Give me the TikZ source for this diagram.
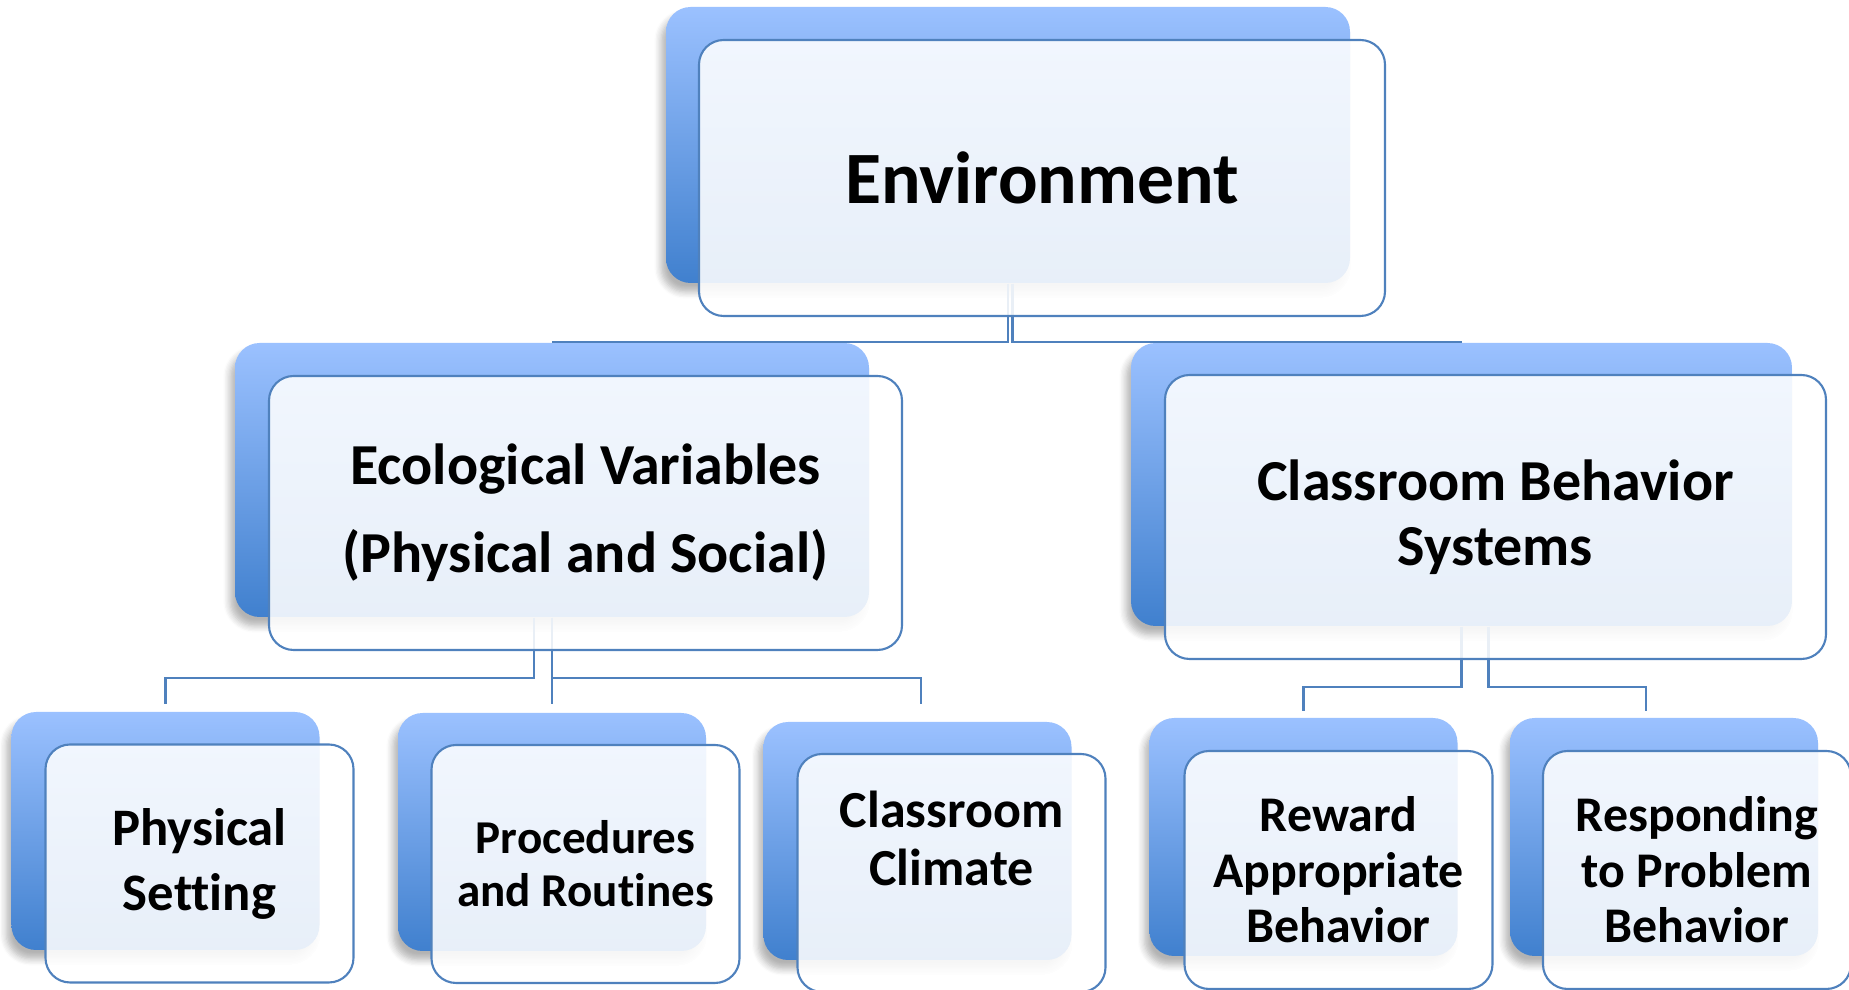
\documentclass[tikz,border=0pt]{standalone}
\usepackage{fontspec}
\setmainfont{Carlito}[Ligatures={NoCommon}]
\usetikzlibrary{shadows.blur}
\definecolor{tabtop}{RGB}{155,193,255}
\definecolor{tabbot}{RGB}{64,128,206}
\definecolor{edgeblue}{RGB}{79,129,189}

\begin{document}
\begin{tikzpicture}[
  backbox/.style={rectangle, rounded corners=7pt, top color=tabtop, bottom color=tabbot,
    draw=none, inner sep=0pt,
    blur shadow={shadow xshift=-0.5mm, shadow yshift=-0.9mm, shadow blur steps=6,
      shadow opacity=30}},
  frontbox/.style={rectangle, rounded corners=7pt, draw=edgeblue, line width=0.6pt,
    fill=white, fill opacity=0.88, text opacity=1, align=center, inner sep=0pt},
  leaf/.style={minimum width=3.08cm, minimum height=2.38cm},
  conn/.style={draw=edgeblue, line width=0.6pt},
  lbl/.style={align=center, font=\bfseries}
]

\useasboundingbox (0,0) rectangle (18.49,9.90);

% ---------- Back tabs ----------
\node[backbox, minimum width=6.84cm, minimum height=2.76cm] (envb) at (10.08,8.45) {};
\node[backbox, minimum width=6.34cm, minimum height=2.74cm] (ecob) at (5.52,5.10) {};
\node[backbox, minimum width=6.61cm, minimum height=2.83cm] (cbsb) at (14.615,5.055) {};
\node[backbox, leaf] (physb) at (1.655,1.59) {};
\node[backbox, leaf] (procb) at (5.52,1.58) {};
\node[backbox, leaf] (climb) at (9.175,1.49) {};
\node[backbox, leaf] (rewb) at (13.035,1.53) {};
\node[backbox, leaf] (respb) at (16.64,1.53) {};

% ---------- Connectors ----------
\draw[conn] (envb.south) |- (ecob.north);
\draw[conn] ([xshift=0.45mm]envb.south) |- (cbsb.north);

\draw[conn] ([xshift=-1.8mm]ecob.south) -- ++(0,-0.6) -| ([yshift=0.7mm]physb.north);
\draw[conn] (ecob.south) -- ([yshift=0.8mm]procb.north);
\draw[conn] (ecob.south) -- ++(0,-0.6) -| ([xshift=0.35mm,yshift=1.7mm]climb.north);

\draw[conn] (cbsb.south) -- ++(0,-0.6) -| ([yshift=0.6mm]rewb.north);
\draw[conn] ([xshift=2.7mm]cbsb.south) -- ++(0,-0.6) -| ([xshift=-1.8mm,yshift=0.6mm]respb.north);

% ---------- Front cards ----------
\node[frontbox, minimum width=6.86cm, minimum height=2.76cm,
  font=\bfseries\fontsize{21}{25}\selectfont] (envf) at (10.42,8.12) {Environment};
\node[frontbox, minimum width=6.33cm, minimum height=2.74cm,
  font=\bfseries\fontsize{16.5}{25}\selectfont] (ecof) at (5.855,4.77)
  {Ecological Variables\\(Physical and Social)};
\node[frontbox, minimum width=6.61cm, minimum height=2.84cm,
  font=\bfseries\fontsize{16.5}{18.5}\selectfont] (cbsf) at (14.955,4.73)
  {Classroom Behavior\\Systems};

\node[frontbox, leaf, font=\bfseries\fontsize{15}{18.5}\selectfont] (physf) at (1.995,1.265)
  {Physical\\Setting};
\node[frontbox, leaf, font=\bfseries\fontsize{13.4}{15}\selectfont] (procf) at (5.855,1.26)
  {Procedures\\and Routines};
\node[frontbox, leaf] (climf) at (9.515,1.17) {};
\node[lbl, font=\bfseries\fontsize{14.8}{16.5}\selectfont] (climt) at ([yshift=3.5mm]climf.center)
  {Classroom\\Climate};
\node[frontbox, leaf, font=\bfseries\fontsize{14.2}{15.8}\selectfont] (rewf) at (13.385,1.20)
  {Reward\\Appropriate\\Behavior};
\node[frontbox, leaf, font=\bfseries\fontsize{14.2}{15.8}\selectfont] (respf) at (16.97,1.20)
  {Responding\\to Problem\\Behavior};

\end{tikzpicture}
\end{document}
